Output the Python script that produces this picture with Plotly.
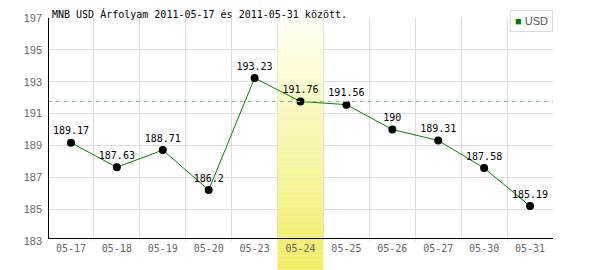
import plotly.graph_objects as go

categories = ["05-17", "05-18", "05-19", "05-20", "05-23", "05-24",
              "05-25", "05-26", "05-27", "05-30", "05-31"]
values = [189.17, 187.63, 188.71, 186.2, 193.23, 191.76,
          191.56, 190, 189.31, 187.58, 185.19]
value_labels = ["189.17", "187.63", "188.71", "186.2", "193.23", "191.76",
                "191.56", "190", "189.31", "187.58", "185.19"]
highlight = "05-24"
reference_value = 191.76
y_ticks = [183, 185, 187, 189, 191, 193, 195, 197]
title_text = "MNB USD Árfolyam 2011-05-17 és 2011-05-31 között."
series_name = "USD"

Y_MIN, Y_MAX = 183, 197
L, R, T, B = 48, 47, 16, 29
W, H = 600, 270
plot_h = H - T - B
plot_w = W - L - R
n = len(categories)
hi = categories.index(highlight)

MONO = "DejaVu Sans Mono"

fig = go.Figure()
# reference dashed line on an invisible overlay axis spanning the full width
fig.add_trace(go.Scatter(
    x=[0, 1], y=[reference_value, reference_value], xaxis="x2", yaxis="y",
    mode="lines", line=dict(color="#80cc80", width=1, dash="4px,4px"),
    showlegend=False, hoverinfo="skip",
))
fig.add_trace(go.Scatter(
    x=categories, y=values, mode="lines+markers+text",
    text=value_labels, textposition="top center",
    textfont=dict(family=MONO, size=10, color="#000000"),
    line=dict(color="#008000", width=1),
    marker=dict(color="#000000", size=8),
    showlegend=False, cliponaxis=False,
))

def lerp(c0, c1, t):
    return "rgb(%d,%d,%d)" % tuple(round(a + (b - a) * t) for a, b in zip(c0, c1))

top_c = (255, 255, 242)
bot_c = (240, 237, 100)
total_px = plot_h + B
shapes = []
steps = 45
for i in range(steps):
    ya = Y_MAX - (Y_MAX - Y_MIN) * i / steps
    yb = Y_MAX - (Y_MAX - Y_MIN) * (i + 1) / steps
    t = (plot_h * (i + 0.5) / steps) / total_px
    shapes.append(dict(type="rect", xref="x", yref="y", x0=hi - 0.5, x1=hi + 0.5,
                       y0=yb, y1=ya, fillcolor=lerp(top_c, bot_c, t),
                       line=dict(width=0), layer="between"))
steps_b = 6
for i in range(steps_b):
    pa = -B * i / steps_b / plot_h
    pb = -B * (i + 1) / steps_b / plot_h
    t = (plot_h + B * (i + 0.5) / steps_b) / total_px
    shapes.append(dict(type="rect", xref="paper", yref="paper", x0=hi / n, x1=(hi + 1) / n,
                       y0=pb, y1=pa, fillcolor=lerp(top_c, bot_c, t),
                       line=dict(width=0), layer="below"))
# black axis lines
yb_line = 2.5 / plot_h
xl_line = 0.5 / plot_w
shapes.append(dict(type="line", xref="paper", yref="paper", x0=0, x1=1,
                   y0=yb_line, y1=yb_line, line=dict(color="#000000", width=1),
                   layer="above"))
shapes.append(dict(type="line", xref="paper", yref="paper", x0=xl_line, x1=xl_line,
                   y0=yb_line, y1=1, line=dict(color="#000000", width=1),
                   layer="above"))

fig.update_layout(
    width=W, height=H,
    margin=dict(l=L, r=R, t=T, b=B),
    paper_bgcolor="#ffffff", plot_bgcolor="#ffffff",
    shapes=shapes,
    xaxis=dict(type="category", range=[-0.5, n - 0.5], tickson="boundaries",
               showgrid=True, gridcolor="#dddddd", gridwidth=1, ticks="",
               showline=False, zeroline=False,
               tickfont=dict(family=MONO, size=10, color="#666666")),
    xaxis2=dict(overlaying="x", range=[0, 1], visible=False, showgrid=False),
    yaxis=dict(range=[Y_MIN, Y_MAX], tickvals=y_ticks, showgrid=True,
               gridcolor="#dddddd", gridwidth=1, ticks="", zeroline=False,
               showline=False, ticklabelstandoff=5,
               tickfont=dict(family="Liberation Sans", size=11, color="#666666")),
    annotations=[
        dict(text=title_text, xref="paper", yref="paper", x=0, y=1 + 4 / plot_h,
             xanchor="left", yanchor="middle", xshift=2, showarrow=False,
             font=dict(family=MONO, size=10, color="#000000")),
        dict(text="<span style='color:#008000'>■</span> " + series_name,
             xref="paper", yref="paper", x=1, y=1 + 8 / plot_h,
             xanchor="right", yanchor="top", showarrow=False,
             bordercolor="#dddddd", borderwidth=1, borderpad=4, bgcolor="#ffffff",
             font=dict(family="Liberation Sans", size=11, color="#555555")),
    ],
)

fig.write_html("out.html")
